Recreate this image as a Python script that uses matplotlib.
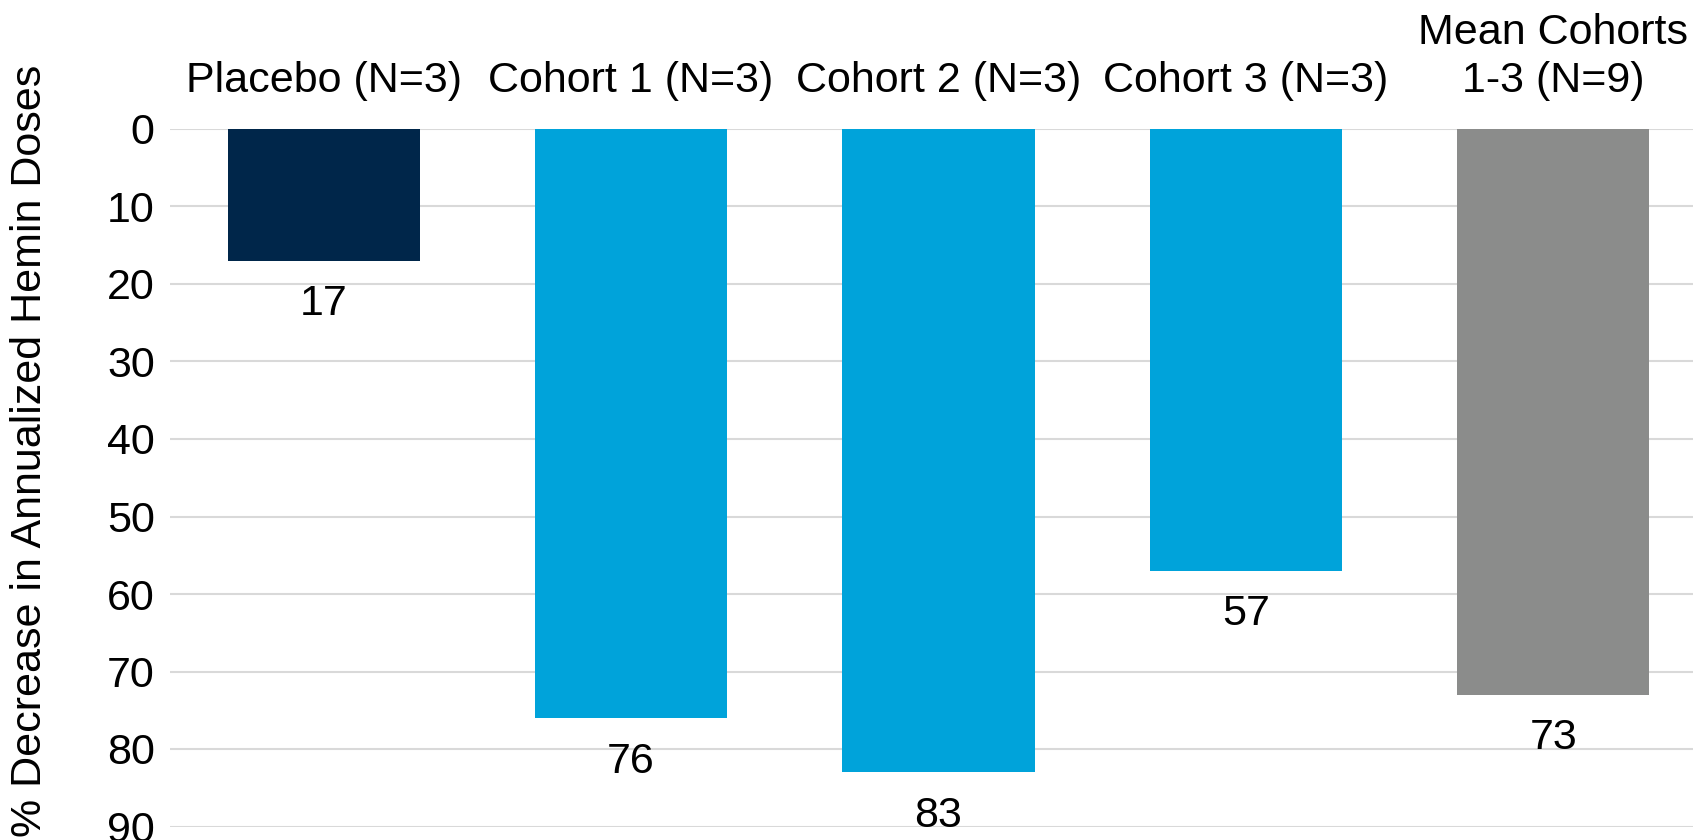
import matplotlib
matplotlib.use("Agg")
import matplotlib.pyplot as plt

plt.rcParams['font.family'] = ['Liberation Sans', 'DejaVu Sans']

categories = ["Placebo (N=3)", "Cohort 1 (N=3)", "Cohort 2 (N=3)",
              "Cohort 3 (N=3)", "Mean Cohorts\n1-3 (N=9)"]
values = [17, 76, 83, 57, 73]
colors = ["#00264A", "#00A3DA", "#00A3DA", "#00A3DA", "#8B8C8B"]
yticks = [0, 10, 20, 30, 40, 50, 60, 70, 80, 90]

FS = 31
W, H = 1693, 840
fig = plt.figure(figsize=(W / 100, H / 100), dpi=100)
ax = fig.add_axes([170 / W, 13.5 / H, (1707 - 170) / W, (826.5 - 129) / H])

x = list(range(len(categories)))
ax.bar(x, values, width=0.625, color=colors, zorder=2)

ax.set_xlim(-0.5, len(categories) - 0.5)
ax.set_ylim(90, 0)
ax.set_yticks(yticks)
ax.yaxis.grid(True, color="#D9D9D9", linewidth=1.5, zorder=0)
ax.set_axisbelow(True)

# category names sit above the plot area
ax.xaxis.tick_top()
ax.set_xticks(x)
ax.set_xticklabels(categories, fontsize=FS, linespacing=1.28)
ax.tick_params(axis="x", length=0, pad=20)
ax.tick_params(axis="y", length=0, pad=11, labelsize=FS)

for s in ax.spines.values():
    s.set_visible(False)

# value labels under each bar end
for xi, v in zip(x, values):
    ax.annotate(f"{v}", (xi, v), xytext=(0, -17), textcoords="offset points",
                ha="center", va="top", fontsize=FS, color="black")

fig.text(30 / W, 389 / H, "% Decrease in Annualized Hemin Doses",
         rotation=90, ha="center", va="center", fontsize=FS)

fig.savefig("out.png", dpi=100, facecolor="white")
